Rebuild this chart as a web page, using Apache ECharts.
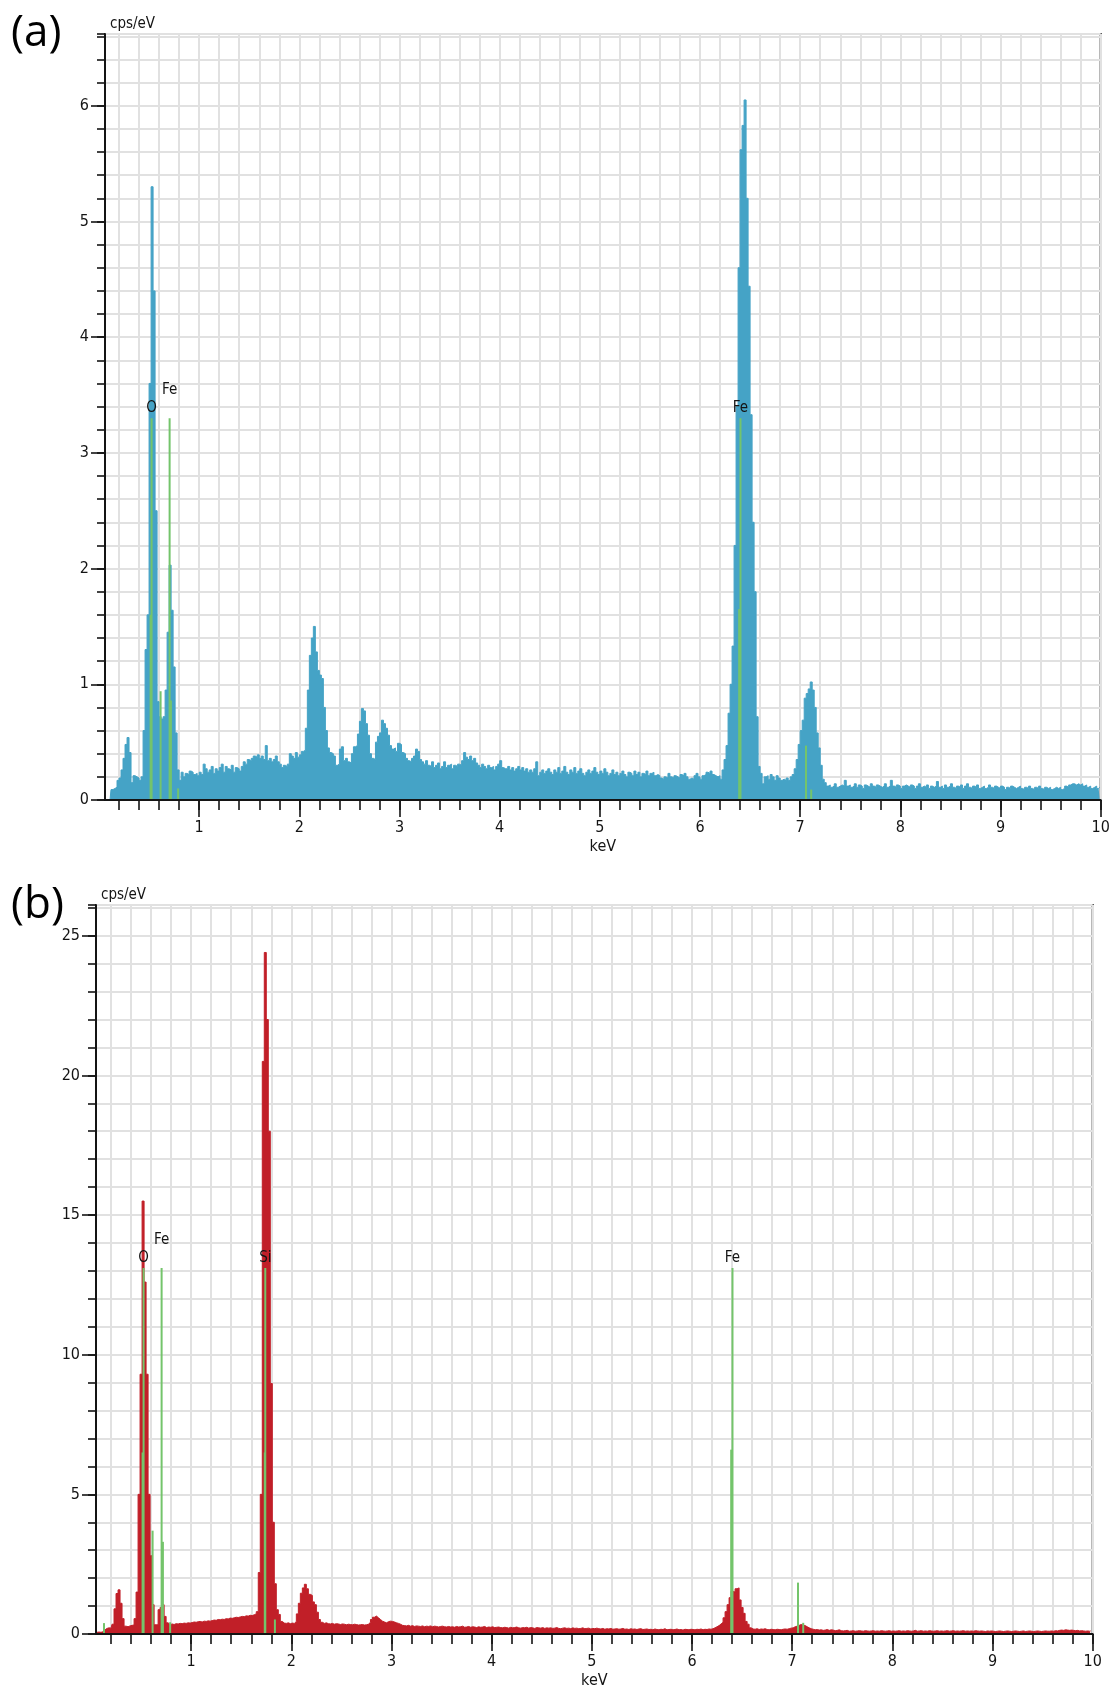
<!DOCTYPE html>
<html>
<head>
<meta charset="utf-8">
<script src="https://cdn.jsdelivr.net/npm/echarts@6/dist/echarts.min.js"></script>
<style>
  html, body { margin: 0; padding: 0; background: #ffffff; }
  #chart { width: 1115px; height: 1692px; }
</style>
</head>
<body>
<div id="chart"></div>
<script>
// EDS spectra: counts per eV in 20 eV channels.
const CHANNEL_WIDTH = 0.02;          // keV per channel
const FIRST_CENTER_A = 0.07;         // keV, centre of first channel, spectrum (a)
const FIRST_CENTER_B = 0.06;         // keV, centre of first channel, spectrum (b)

// Spectrum (a), cps/eV, 0.06 – 10 keV
const COUNTS_A = [
  0,0,0,0.09,0.10,0.11,0.17,0.19,0.26,0.36,0.48,0.54,0.41,0.15,0.21,0.20,0.19,0.17,0.20,0.60,1.30,1.60,3.60,5.30,4.40,
  2.50,0.85,0.72,0.70,0.72,0.95,1.45,2.03,1.64,1.15,0.58,0.26,0.17,0.24,0.20,0.23,0.22,0.25,0.24,0.22,0.23,0.21,0.24,0.22,0.31,
  0.27,0.24,0.26,0.29,0.23,0.27,0.25,0.28,0.31,0.24,0.29,0.27,0.26,0.30,0.24,0.28,0.27,0.25,0.29,0.33,0.31,0.35,0.34,0.36,0.38,
  0.37,0.39,0.36,0.38,0.35,0.47,0.34,0.36,0.33,0.35,0.38,0.33,0.31,0.28,0.30,0.29,0.31,0.40,0.38,0.36,0.41,0.37,0.39,0.42,0.43,
  0.62,0.95,1.25,1.40,1.50,1.28,1.12,1.08,1.05,0.80,0.60,0.45,0.41,0.40,0.38,0.30,0.31,0.44,0.46,0.34,0.36,0.33,0.32,0.40,0.46,
  0.47,0.57,0.68,0.79,0.77,0.66,0.56,0.40,0.36,0.35,0.50,0.55,0.58,0.69,0.66,0.62,0.56,0.47,0.44,0.45,0.42,0.49,0.48,0.41,0.40,
  0.36,0.34,0.33,0.36,0.38,0.44,0.42,0.35,0.33,0.31,0.34,0.30,0.29,0.33,0.28,0.30,0.32,0.27,0.29,0.33,0.28,0.30,0.31,0.27,0.30,
  0.29,0.31,0.30,0.34,0.41,0.37,0.35,0.38,0.34,0.36,0.32,0.30,0.28,0.31,0.29,0.27,0.30,0.28,0.29,0.26,0.29,0.31,0.34,0.28,0.27,
  0.27,0.29,0.26,0.28,0.25,0.27,0.29,0.26,0.28,0.25,0.27,0.24,0.26,0.24,0.27,0.33,0.21,0.24,0.26,0.23,0.25,0.27,0.24,0.22,0.26,
  0.24,0.28,0.23,0.25,0.29,0.24,0.22,0.26,0.24,0.28,0.23,0.25,0.27,0.23,0.21,0.24,0.26,0.23,0.25,0.28,0.24,0.22,0.25,0.23,0.27,
  0.24,0.21,0.23,0.26,0.22,0.24,0.21,0.23,0.25,0.22,0.20,0.24,0.23,0.21,0.25,0.22,0.24,0.20,0.23,0.22,0.25,0.21,0.23,0.24,0.21,
  0.22,0.21,0.19,0.18,0.20,0.19,0.23,0.20,0.19,0.21,0.20,0.19,0.22,0.21,0.23,0.20,0.18,0.19,0.18,0.21,0.23,0.20,0.18,0.21,0.22,
  0.24,0.23,0.25,0.22,0.21,0.20,0.21,0.18,0.26,0.35,0.47,0.75,1.00,1.33,2.20,3.40,4.60,5.62,5.83,6.05,5.20,4.44,3.33,2.40,1.80,
  0.72,0.29,0.23,0.14,0.20,0.21,0.18,0.22,0.20,0.17,0.21,0.19,0.17,0.18,0.17,0.19,0.17,0.20,0.22,0.27,0.35,0.48,0.60,0.69,0.88,
  0.92,0.96,1.02,0.95,0.80,0.58,0.45,0.30,0.18,0.15,0.12,0.13,0.11,0.12,0.14,0.11,0.12,0.13,0.12,0.17,0.12,0.13,0.11,0.12,0.14,
  0.11,0.13,0.12,0.10,0.13,0.12,0.11,0.14,0.12,0.11,0.13,0.12,0.11,0.12,0.14,0.11,0.12,0.17,0.12,0.11,0.13,0.12,0.10,0.12,0.13,
  0.12,0.11,0.13,0.12,0.10,0.12,0.14,0.11,0.12,0.11,0.13,0.10,0.12,0.11,0.12,0.16,0.11,0.12,0.10,0.13,0.11,0.12,0.14,0.11,0.10,
  0.12,0.11,0.13,0.10,0.12,0.14,0.11,0.10,0.12,0.11,0.13,0.10,0.11,0.12,0.10,0.11,0.13,0.11,0.10,0.12,0.11,0.10,0.12,0.11,0.09,
  0.11,0.10,0.12,0.11,0.10,0.11,0.12,0.10,0.09,0.11,0.10,0.12,0.10,0.09,0.11,0.10,0.12,0.10,0.09,0.11,0.10,0.11,0.09,0.10,0.11,
  0.10,0.11,0.09,0.10,0.12,0.11,0.13,0.14,0.14,0.13,0.14,0.13,0.14,0.12,0.13,0.11,0.12,0.10,0.11,0.12,0.10,0.11
];

// Spectrum (b), cps/eV, 0.05 – 10 keV
const COUNTS_B = [
  0.06,0.07,0.06,0.08,0.15,0.20,0.22,0.21,0.35,0.90,1.45,1.58,1.10,0.55,0.28,0.26,0.29,0.31,0.32,0.55,1.50,5.00,9.30,15.50,12.60,
  9.30,5.00,2.80,1.05,0.33,0.33,0.87,0.95,1.05,0.63,0.40,0.33,0.36,0.34,0.37,0.36,0.38,0.37,0.39,0.38,0.40,0.39,0.41,0.43,0.42,
  0.44,0.45,0.43,0.46,0.45,0.47,0.46,0.48,0.50,0.49,0.52,0.51,0.53,0.52,0.55,0.54,0.57,0.56,0.58,0.60,0.59,0.61,0.63,0.62,0.65,
  0.64,0.67,0.66,0.69,0.72,0.80,2.20,5.00,20.50,24.40,22.00,18.00,8.97,4.00,1.80,0.87,0.70,0.45,0.39,0.38,0.40,0.37,0.39,0.38,0.45,
  0.72,1.10,1.46,1.65,1.78,1.62,1.42,1.38,1.15,1.05,0.78,0.52,0.42,0.38,0.40,0.37,0.36,0.38,0.35,0.37,0.36,0.34,0.36,0.35,0.33,
  0.35,0.34,0.33,0.35,0.34,0.32,0.33,0.34,0.32,0.33,0.35,0.42,0.52,0.60,0.64,0.58,0.52,0.46,0.43,0.40,0.44,0.46,0.45,0.43,0.40,
  0.38,0.35,0.31,0.30,0.29,0.31,0.28,0.30,0.27,0.29,0.28,0.27,0.29,0.26,0.28,0.27,0.29,0.26,0.28,0.27,0.25,0.27,0.28,0.26,0.25,
  0.27,0.25,0.26,0.24,0.27,0.25,0.26,0.28,0.24,0.25,0.27,0.24,0.26,0.25,0.23,0.26,0.24,0.25,0.27,0.23,0.25,0.24,0.26,0.23,0.24,
  0.25,0.23,0.22,0.24,0.23,0.21,0.24,0.22,0.23,0.25,0.22,0.21,0.23,0.22,0.24,0.21,0.23,0.22,0.20,0.23,0.22,0.21,0.23,0.20,0.22,
  0.21,0.22,0.20,0.21,0.23,0.20,0.19,0.21,0.22,0.20,0.21,0.19,0.22,0.20,0.21,0.19,0.20,0.22,0.19,0.20,0.21,0.18,0.20,0.19,0.21,
  0.19,0.18,0.20,0.17,0.19,0.18,0.20,0.17,0.18,0.19,0.17,0.18,0.20,0.17,0.18,0.16,0.19,0.17,0.18,0.16,0.18,0.19,0.16,0.17,0.18,
  0.16,0.17,0.15,0.18,0.16,0.15,0.17,0.16,0.19,0.15,0.16,0.17,0.15,0.16,0.18,0.15,0.16,0.14,0.17,0.16,0.15,0.17,0.16,0.15,0.17,
  0.16,0.18,0.15,0.17,0.16,0.18,0.17,0.19,0.22,0.26,0.30,0.36,0.42,0.58,0.80,1.05,1.30,1.53,1.50,1.62,1.65,1.22,0.95,0.74,0.45,
  0.35,0.22,0.18,0.17,0.19,0.16,0.18,0.17,0.19,0.16,0.15,0.17,0.16,0.15,0.17,0.16,0.15,0.17,0.18,0.17,0.19,0.21,0.22,0.26,0.28,
  0.31,0.34,0.32,0.30,0.26,0.22,0.19,0.17,0.15,0.16,0.14,0.15,0.13,0.14,0.16,0.13,0.15,0.14,0.12,0.13,0.15,0.12,0.11,0.12,0.13,
  0.10,0.11,0.12,0.10,0.11,0.12,0.11,0.10,0.12,0.11,0.10,0.11,0.12,0.10,0.11,0.10,0.12,0.11,0.10,0.11,0.12,0.10,0.11,0.10,0.11,
  0.12,0.10,0.11,0.10,0.12,0.11,0.10,0.11,0.13,0.10,0.11,0.12,0.10,0.11,0.10,0.12,0.11,0.10,0.11,0.12,0.10,0.11,0.10,0.11,0.12,
  0.10,0.11,0.12,0.10,0.11,0.10,0.11,0.12,0.10,0.11,0.10,0.11,0.10,0.12,0.11,0.10,0.11,0.10,0.09,0.11,0.10,0.11,0.10,0.09,0.10,
  0.11,0.10,0.09,0.10,0.11,0.10,0.09,0.10,0.11,0.10,0.09,0.10,0.11,0.09,0.10,0.11,0.10,0.09,0.10,0.11,0.10,0.09,0.10,0.11,0.10,
  0.10,0.11,0.10,0.12,0.11,0.13,0.14,0.13,0.15,0.14,0.13,0.14,0.13,0.12,0.13,0.11,0.12,0.11,0.10,0.11,0.10,0.11
];

// Element line markers: [energy keV, marker height cps/eV]
const MARKERS_A = [
  [0.515, 1.60], [0.525, 3.30], [0.615, 0.94], [0.705, 3.30], [0.718, 0.86], [0.790, 0.10],
  [6.391, 1.65], [6.404, 3.30], [7.058, 0.47], [7.110, 0.09]
];
const MARKERS_B = [
  [0.130, 0.39], [0.515, 6.50], [0.525, 13.10], [0.615, 3.70], [0.705, 13.10], [0.718, 3.30], [0.790, 0.42],
  [1.735, 6.50], [1.740, 13.10], [1.836, 0.52],
  [6.391, 6.60], [6.404, 13.10], [7.058, 1.84], [7.110, 0.40]
];

// Element labels: [symbol, energy keV, marker top cps/eV]
const LABELS_A = [['O', 0.525, 3.30], ['Fe', 0.705, 3.30], ['Fe', 6.404, 3.30]];
const LABELS_B = [['O', 0.525, 13.10], ['Fe', 0.705, 13.10], ['Si', 1.740, 13.10], ['Fe', 6.404, 13.10]];

// Axis tick labels
const KEV_LABELS = [1, 2, 3, 4, 5, 6, 7, 8, 9, 10];
const CPS_LABELS_A = [0, 1, 2, 3, 4, 5, 6];
const CPS_LABELS_B = [0, 5, 10, 15, 20, 25];

// ---- styling ----
const FONT = '"DejaVu Sans Condensed", "Liberation Sans Narrow", "DejaVu Sans", sans-serif';
const INK = '#141414';
const GRID_LINE = '#e1e1e1';
const MARKER_GREEN = '#74c46b';

function stepValues(lo, hi, step) {
  const out = [];
  for (let k = Math.ceil(lo / step - 1e-9); k * step <= hi + 1e-9; k++) out.push(+(k * step).toFixed(4));
  return out;
}

const PANELS = [
  { tag: '(a)', tagY: 33, grid: { left: 105, top: 34, width: 995.7, height: 766 },
    eMin: 0.06, eMax: 10, yMax: 6.62, yStep: 0.2, yLabels: CPS_LABELS_A,
    first: FIRST_CENTER_A, counts: COUNTS_A, color: '#45a3c6',
    markers: MARKERS_A, labels: LABELS_A },
  { tag: '(b)', tagY: 905, grid: { left: 96, top: 905, width: 996.7, height: 729 },
    eMin: 0.05, eMax: 10, yMax: 26.1, yStep: 1, yLabels: CPS_LABELS_B,
    first: FIRST_CENTER_B, counts: COUNTS_B, color: '#c11f28',
    markers: MARKERS_B, labels: LABELS_B }
];

const grids = [], xAxes = [], yAxes = [], series = [], graphics = [];

PANELS.forEach((p, gi) => {
  grids.push(Object.assign({
    show: true, borderColor: INK, borderWidth: 2, backgroundColor: '#ffffff',
    containLabel: false, outerBoundsMode: 'none'
  }, p.grid));

  const textStyle = { fontFamily: FONT, fontSize: 16, color: INK };

  // major keV axis: labels + long ticks
  xAxes.push({
    type: 'value', gridIndex: gi, position: 'bottom', min: p.eMin, max: p.eMax, z: 10,
    axisLine: { show: true, onZero: false, lineStyle: { color: INK, width: 2 } },
    axisTick: { show: true, customValues: KEV_LABELS, length: 17, lineStyle: { color: INK, width: 1.6 } },
    axisLabel: Object.assign({ show: true, customValues: KEV_LABELS, margin: 20 }, textStyle),
    splitLine: { show: false },
    name: 'keV', nameLocation: 'middle', nameGap: 39, nameTextStyle: textStyle
  });
  // minor keV axis: short ticks + vertical grid every 0.2 keV
  xAxes.push({
    type: 'value', gridIndex: gi, position: 'bottom', min: p.eMin, max: p.eMax, z: 1,
    axisLine: { show: false, onZero: false },
    axisTick: { show: true, customValues: stepValues(p.eMin, p.eMax, 0.2), length: 10, lineStyle: { color: INK, width: 1.6 } },
    axisLabel: { show: false },
    splitLine: { show: true, lineStyle: { color: GRID_LINE, width: 2 } }
  });

  // major cps/eV axis
  yAxes.push({
    type: 'value', gridIndex: gi, position: 'left', min: 0, max: p.yMax, z: 10,
    axisLine: { show: true, onZero: false, lineStyle: { color: INK, width: 2 } },
    axisTick: { show: true, customValues: p.yLabels, length: 14, lineStyle: { color: INK, width: 1.6 } },
    axisLabel: Object.assign({ show: true, customValues: p.yLabels, margin: 16 }, textStyle),
    splitLine: { show: false },
    name: 'cps/eV', nameLocation: 'end', nameGap: 2,
    nameTextStyle: { fontFamily: FONT, fontSize: 15, color: INK, align: 'left', verticalAlign: 'bottom', padding: [0, 0, 0, 5] }
  });
  // minor cps/eV axis: short ticks + horizontal grid
  yAxes.push({
    type: 'value', gridIndex: gi, position: 'left', min: 0, max: p.yMax, interval: p.yStep, z: 1,
    axisLine: { show: false, onZero: false },
    axisTick: { show: true, length: 8, lineStyle: { color: INK, width: 1.6 } },
    axisLabel: { show: false },
    splitLine: { show: true, lineStyle: { color: GRID_LINE, width: 2 } }
  });

  const xi = gi * 2, yi = gi * 2;

  // spectrum as a filled step histogram
  series.push({
    type: 'line', xAxisIndex: xi, yAxisIndex: yi, z: 3, silent: true, animation: false,
    step: 'middle', symbol: 'none', showSymbol: false,
    data: p.counts.map((v, i) => [p.first + i * CHANNEL_WIDTH, v]),
    lineStyle: { color: p.color, width: 1 },
    areaStyle: { color: p.color, opacity: 1 }
  });

  // element line markers
  series.push({
    type: 'custom', xAxisIndex: xi, yAxisIndex: yi, z: 4, silent: true, animation: false,
    data: p.markers,
    encode: { x: 0, y: 1 },
    renderItem: (params, api) => {
      const b = api.coord([api.value(0), 0]);
      const t = api.coord([api.value(0), api.value(1)]);
      return { type: 'line', shape: { x1: b[0], y1: b[1], x2: t[0], y2: t[1] },
               style: { stroke: MARKER_GREEN, lineWidth: 2 } };
    }
  });

  // element symbols above the markers; neighbouring labels stack upward
  const rows = [];
  p.labels.forEach((l, i) => {
    rows.push(i > 0 && Math.abs(l[1] - p.labels[i - 1][1]) < 0.3 ? rows[i - 1] + 1 : 0);
  });
  series.push({
    type: 'custom', xAxisIndex: xi, yAxisIndex: yi, z: 5, silent: true, animation: false,
    data: p.labels.map(l => [l[1], l[2]]),
    encode: { x: 0, y: 1 },
    renderItem: (params, api) => {
      const t = api.coord([api.value(0), api.value(1)]);
      return { type: 'text', x: t[0], y: t[1] - 10 - 18 * rows[params.dataIndex],
               style: { text: p.labels[params.dataIndex][0], fill: INK, font: '15px ' + FONT,
                        align: 'center', verticalAlign: 'middle' } };
    }
  });

  graphics.push({
    type: 'text', x: 11, y: p.tagY, z: 10,
    style: { text: p.tag, fill: '#000', font: '44px "Open Sans", "Noto Sans", sans-serif',
             align: 'left', verticalAlign: 'middle' }
  });
});

const chart = echarts.init(document.getElementById('chart'), null, { renderer: 'canvas' });
chart.setOption({
  backgroundColor: '#ffffff',
  animation: false,
  grid: grids,
  xAxis: xAxes,
  yAxis: yAxes,
  series: series,
  graphic: graphics
});
</script>
</body>
</html>
